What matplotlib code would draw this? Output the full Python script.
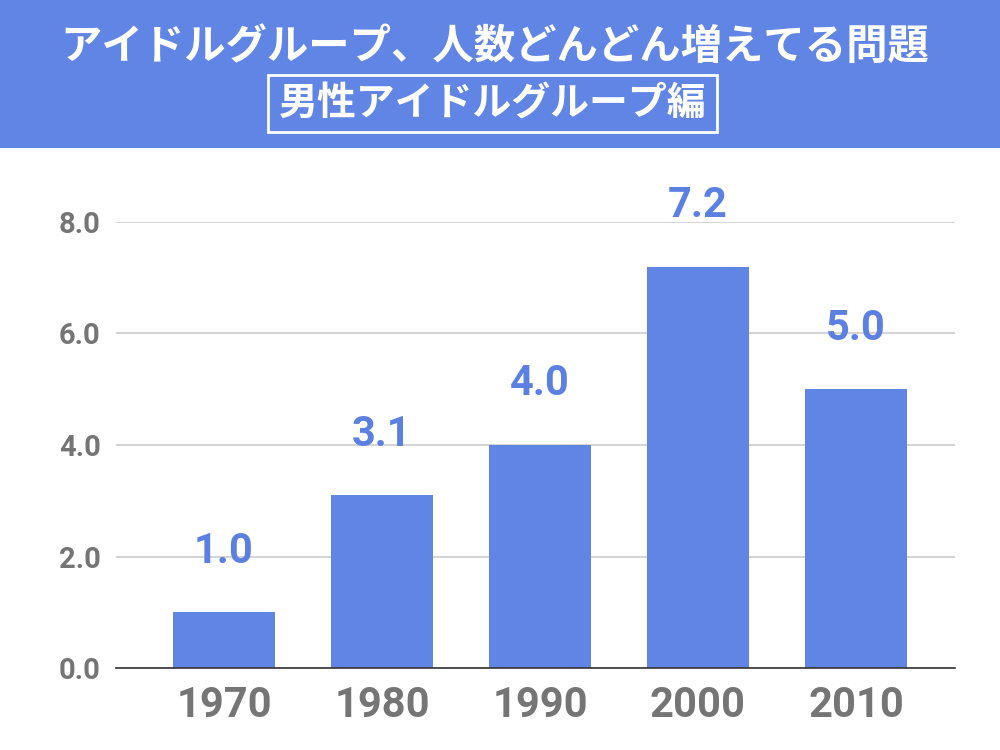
import matplotlib.pyplot as plt
from matplotlib.patches import Rectangle

# データ
decades = ['1970', '1980', '1990', '2000', '2010']
counts = [1.0, 3.1, 4.0, 7.2, 5.0]
yticks = [0.0, 2.0, 4.0, 6.0, 8.0]

title = 'アイドルグループ、人数どんどん増えてる問題'
subtitle = '男性アイドルグループ編'

blue = '#6185e4'
label_blue = '#5b80e2'
gray = '#757575'
fonts = ['Roboto', 'Noto Sans CJK JP', 'DejaVu Sans']
plt.rcParams['font.family'] = fonts

fig = plt.figure(figsize=(10, 7.5), dpi=100)

# ヘッダー帯
fig.patches.append(Rectangle((0, 1 - 148 / 750), 1, 148 / 750, transform=fig.transFigure,
                             facecolor=blue, edgecolor='none', zorder=0))
fig.text(0.495, 1 - 47 / 750, title, ha='center', va='center', color='white',
         fontsize=29.8, fontweight='bold', family=['Noto Sans CJK JP', 'DejaVu Sans'])
fig.text(0.4925, 1 - 104 / 750, subtitle, ha='center', va='center', color='white',
         fontsize=28, fontweight='bold', family=['Noto Sans CJK JP', 'DejaVu Sans'])
fig.patches.append(Rectangle((268 / 1000, 1 - 132 / 750), 449 / 1000, 57 / 750,
                             transform=fig.transFigure, facecolor='none',
                             edgecolor='white', linewidth=2, zorder=1))

ax = fig.add_axes([0.116, 1 - 668 / 750, 0.839, (668 - 222) / 750])
x = range(len(decades))
bars = ax.bar(x, counts, width=0.645, color=blue, zorder=2)

for xi, v in zip(x, counts):
    ax.annotate(f'{v:.1f}', (xi, v), xytext=(0, 44), textcoords='offset points',
                ha='center', va='center', color=label_blue, fontsize=30,
                fontweight='bold', annotation_clip=False)

ax.set_xlim(-0.684, 4.627)
ax.set_ylim(0, 8)
ax.set_xticks(list(x))
ax.set_xticklabels(decades, fontsize=30, fontweight='bold', color=gray)
ax.set_yticks(yticks)
ax.set_yticklabels([f'{t:.1f}' for t in yticks], fontsize=21, fontweight='bold', color=gray)
ax.tick_params(axis='both', length=0)
ax.tick_params(axis='x', pad=12)
ax.tick_params(axis='y', pad=11)

ax.grid(axis='y', color='#cccccc', linewidth=1.2, zorder=0)
for s in ['top', 'right', 'left']:
    ax.spines[s].set_visible(False)
ax.spines['bottom'].set_color('#333333')
ax.spines['bottom'].set_linewidth(1.2)
ax.spines['bottom'].set_zorder(3)

plt.savefig('out.png', dpi=100)
